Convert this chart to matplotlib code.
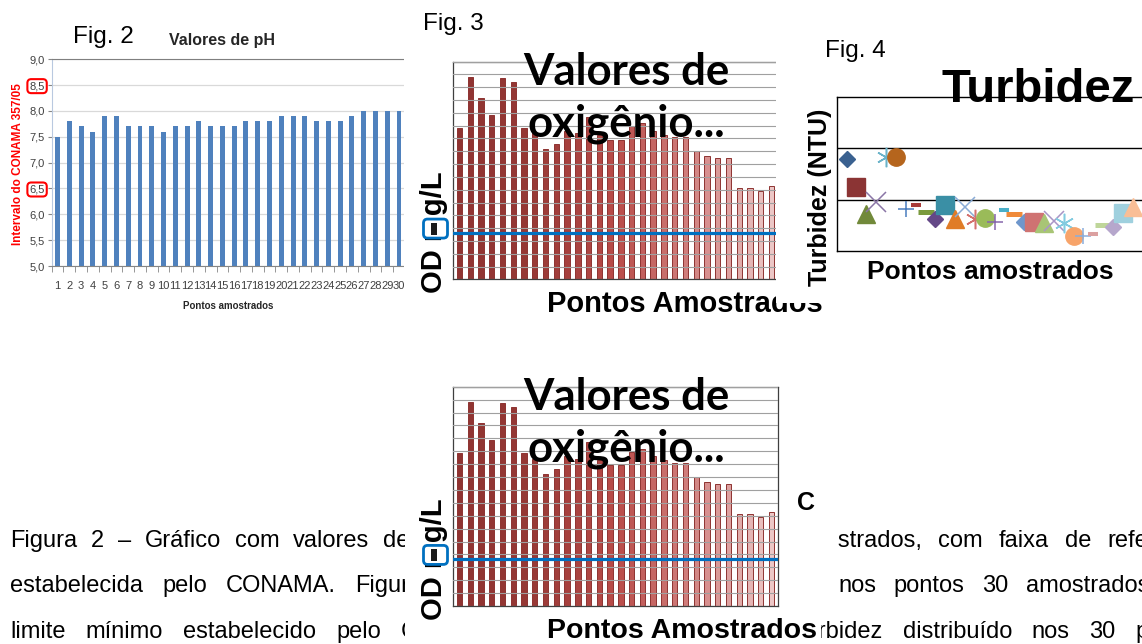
import numpy as np
import matplotlib
matplotlib.use('Agg')
import matplotlib.pyplot as plt
from matplotlib.patches import Rectangle, FancyBboxPatch
from matplotlib.colors import LinearSegmentedColormap
from matplotlib.transforms import Affine2D, Bbox, TransformedBbox

# page size in pixels
W, H = 1142, 644

# Fig. 2 - pH per sampling point
ph_points = np.arange(1, 31)
ph_values = [7.5, 7.8, 7.7, 7.6, 7.9, 7.9, 7.7, 7.7, 7.7, 7.6,
             7.7, 7.7, 7.8, 7.7, 7.7, 7.7, 7.8, 7.8, 7.8, 7.9,
             7.9, 7.9, 7.8, 7.8, 7.8, 7.9, 8.0, 8.0, 8.0, 8.0]
ph_ticks = [5.0, 5.5, 6.0, 6.5, 7.0, 7.5, 8.0, 8.5, 9.0]
ph_boxed = [6.5, 8.5]          # faixa CONAMA 357/05

# Fig. 3 - oxigenio dissolvido (unidades da grade)
od_points = np.arange(1, 31)
od_values = [11.85, 15.8, 14.2, 12.85, 15.7, 15.45, 11.85, 11.4, 10.2, 10.6,
             11.6, 11.4, 12.7, 11.3, 10.9, 10.9, 11.95, 12.2, 11.6, 11.3,
             11.1, 11.1, 10.0, 9.6, 9.45, 9.45, 7.1, 7.1, 6.9, 7.3]
od_limit = 3.65

# Fig. 4 - turbidez
turb_points = np.arange(1, 31)
turb_values = [89, 62.5, 36, 48, 91.5, 91.5, 40.5, 44.5, 37.5, 31,
               44.5, 31, 42.5, 31, 32, 28.5, 40, 35.5, 28.5, 28.5,
               27, 29.5, 27, 15, 14.5, 17, 25.5, 23, 36.5, 43]
turb_grid = [50, 100]

# body text around the figures
body_left = [['Figura', '2', '–', 'Gráfico', 'com', 'valores', 'de'],
             ['estabelecida', 'pelo', 'CONAMA.', 'Figura'],
             ['limite', 'mínimo', 'estabelecido', 'pelo', 'CONAMA']]
body_right = [['amostrados,', 'com', 'faixa', 'de', 'referência'],
              ['nos', 'pontos', '30', 'amostrados'],
              ['turbidez', 'distribuído', 'nos', '30', 'pontos']]

fig = plt.figure(figsize=(W / 100, H / 100), dpi=100)
fig.patch.set_facecolor('white')
px = Affine2D().scale(1 / W, -1 / H).translate(0, 1) + fig.transFigure
SANS = 'Liberation Sans'


def box(l, t, r, b):
    return [l / W, 1 - b / H, (r - l) / W, (b - t) / H]


def white_bg(l, t, r, b, z):
    # white area of a pasted picture, drawn at page level between layers
    fig.add_artist(Rectangle((l, t), r - l, b - t, transform=px, facecolor='white',
                             edgecolor='none', zorder=z))


# ---------------- Fig. 2 ----------------
ax2 = fig.add_axes(box(51.7, 59.3, 404.9, 266), zorder=1)
ax2.bar(ph_points, ph_values, width=0.42, color='#4F81BD', zorder=2)
ax2.set_xlim(0.5, 30.5)
ax2.set_ylim(5, 9)
ax2.set_yticks(ph_ticks)
ax2.set_yticklabels([('%.1f' % v).replace('.', ',') for v in ph_ticks],
                    fontsize=8, color='#404040', family=SANS)
ax2.set_xticks(ph_points)
ax2.set_xticklabels([str(p) for p in ph_points], fontsize=8, color='#404040', family=SANS)
ax2.set_xticks(np.arange(0.5, 31, 1), minor=True)
ax2.tick_params(axis='x', which='major', length=0, pad=11)
ax2.tick_params(axis='x', which='minor', length=4, color='#868686')
ax2.tick_params(axis='y', length=3, pad=2, color='#868686')
ax2.yaxis.grid(True, color='#D9D9D9', lw=0.9)
ax2.set_axisbelow(True)
ax2.spines['right'].set_visible(False)
ax2.spines['top'].set_color('#7F7F7F')
ax2.spines['left'].set_color('#B9C9E0')
ax2.spines['bottom'].set_color('#868686')
for lab, v in zip(ax2.get_yticklabels(), ph_ticks):
    if v in ph_boxed:
        lab.set_bbox(dict(boxstyle='round,pad=0.18,rounding_size=0.35', fc='none',
                          ec='#FF0000', lw=1.5))
ax2.text(73, 43, 'Fig. 2', transform=px, fontsize=17.5, family=SANS, va='baseline')
ax2.text(222, 45, 'Valores de pH', transform=px, fontsize=11.5, family=SANS,
         fontweight='bold', ha='center', va='baseline', color='#262626')
ax2.text(18.5, 164, 'Intervalo do CONAMA 357/05', transform=px, rotation=90,
         fontsize=8.5, family=SANS, fontweight='bold', color='#FF0000',
         ha='center', va='center')
ax2.text(228, 306, 'Pontos amostrados', transform=px, fontsize=7, family=SANS,
         fontweight='bold', color='#262626', ha='center', va='center')

# ---------------- Fig. 3 ----------------
od_cmap = LinearSegmentedColormap.from_list(
    'od', [(0, '#8F3331'), (0.22, '#963835'), (0.5, '#B94B48'),
           (0.72, '#CF7C7A'), (1, '#ECC7C6')])
od_colors = od_cmap(np.linspace(0, 1, len(od_values)))


def od_chart(top, bottom, zord, xlab_size):
    ax = fig.add_axes(box(453.5, top, 777.5, bottom), zorder=zord)
    ax.bar(od_points, od_values, width=0.5, color=od_colors,
           edgecolor='#8E3331', linewidth=0.7, zorder=1)
    ax.axhline(od_limit, color='#0070C0', lw=2.3, zorder=3)
    ax.set_xlim(0.443, 30.557)
    ax.set_ylim(0, 17)
    ax.set_yticks(np.arange(0, 18))
    ax.set_xticks([])
    ax.tick_params(axis='y', length=0, labelleft=False)
    ax.set_axisbelow(False)
    ax.yaxis.grid(True, color='#A0A0A0', lw=0.8)
    for s in ax.spines.values():
        s.set_color('#3F3F3F')
        s.set_linewidth(0.9)
    ax.text(626.5, top + 23, 'Valores de', transform=px, ha='center', va='baseline',
            fontsize=31.5, family='Lato', fontweight='bold', zorder=5)
    ax.text(626.5, top + 75, 'oxigênio...', transform=px, ha='center', va='baseline',
            fontsize=31.5, family='Lato', fontweight='bold', zorder=5)
    ax.text(433.5, bottom - 46.8, 'OD mg/L', transform=px, rotation=90,
            ha='center', va='center', fontsize=21, family=SANS, fontweight='bold')
    ly = bottom - od_limit * (bottom - top) / 17 - 4
    ax.add_patch(FancyBboxPatch((423.5, ly - 9.5), 24, 19,
                                boxstyle='round,pad=0,rounding_size=4', transform=px,
                                fc='white', ec='#0070C0', lw=2, clip_on=False, zorder=6))
    ax.add_patch(Rectangle((430.5, ly - 6), 6, 12, transform=px, fc='#1A1A1A',
                           ec='none', clip_on=False, zorder=7))
    ax.text(547, bottom + 32.3, 'Pontos Amostrados', transform=px, ha='left',
            va='baseline', fontsize=xlab_size, family=SANS, fontweight='bold')
    return ax


white_bg(404, 0, 777, 322, 1.5)
ax3 = od_chart(61.7, 279.3, 2, 21)
ax3.text(423.3, 30, 'Fig. 3', transform=px, fontsize=17.5, family=SANS, va='baseline')

# ---------------- Fig. 4 ----------------
white_bg(776, 30, 1142, 303, 2.5)
step = 9.87
ax4 = fig.add_axes(box(836.7, 96.7, 836.7 + 32 * step, 251), zorder=3)
markers = [('D', 8.5, 1.0), ('s', 13.5, 1.0), ('^', 13, 1.0), ('x', 14, 1.1),
           ((6, 2, 0), 14, 1.1), ('o', 12.5, 1.0), ('+', 12, 1.1),
           ('_', 6.5, 2.9), ('_', 11, 3.6)]
turb_colors = ['#3A6190', '#8B3434', '#71893A', '#8A75A6', '#6AB3C9', '#B5651D',
               '#4A7DBF', '#A83B38', '#7A9A3E', '#644887', '#3A8FA5', '#E07C27',
               '#89ABD6', '#D4706D', '#9ABB59', '#8667AC', '#4AAFC8', '#F08A3A',
               '#6F97CC', '#CF7372', '#A8C575', '#A895C6', '#82CBE0', '#F7A46A',
               '#8AAEDC', '#DBA0A0', '#BFD69A', '#B6A7CC', '#9FD0DE', '#F9BE96']
for i, (p, v) in enumerate(zip(turb_points, turb_values)):
    m, ms, mew = markers[i % len(markers)]
    c = turb_colors[i]
    ax4.plot([p], [v], ls='none', marker=m, ms=ms, mew=mew, color=c,
             mfc=c, mec=c, zorder=3)
ax4.set_xlim(0, 32)
ax4.set_ylim(0, 150)
ax4.set_yticks(turb_grid)
ax4.set_xticks([])
ax4.tick_params(axis='y', length=0, labelleft=False)
ax4.yaxis.grid(True, color='black', lw=1.0)
ax4.set_axisbelow(True)
ax4.spines['right'].set_visible(False)
for s in ['top', 'left', 'bottom']:
    ax4.spines[s].set_color('black')
    ax4.spines[s].set_linewidth(1.0)
ax4.text(825, 56.7, 'Fig. 4', transform=px, fontsize=17.5, family=SANS, va='baseline')
ax4.text(1038, 101.7, 'Turbidez', transform=px, fontsize=34, family=SANS,
         fontweight='bold', ha='center', va='baseline', zorder=5)
ax4.text(820, 197.5, 'Turbidez (NTU)', transform=px, rotation=90, fontsize=18,
         family=SANS, fontweight='bold', ha='center', va='center')
ax4.text(990, 272.5, 'Pontos amostrados', transform=px, fontsize=19, family=SANS,
         fontweight='bold', ha='center', va='center')

# ---------------- body text ----------------
rend = fig.canvas.get_renderer()


def put_words(words, x0, y, gap=None, x_last=None, clip=None):
    texts = [fig.text(0, y, w, transform=px, fontsize=17, family=SANS,
                      va='baseline', zorder=3.5) for w in words]
    widths = [t.get_window_extent(renderer=rend).width for t in texts]
    if x_last is not None:
        gap = (x_last - x0 - sum(widths[:-1])) / (len(words) - 1)
    x = x0
    for t, w in zip(texts, widths):
        t.set_x(x)
        if clip is not None:
            t.set_clip_box(TransformedBbox(Bbox.from_extents(clip[0], 0, clip[1], H), px))
            t.set_clip_on(True)
        x += w + gap


def text_width(s):
    t = fig.text(0, 0, s, fontsize=17, family=SANS)
    w = t.get_window_extent(renderer=rend).width
    t.remove()
    return w


baselines = [546.7, 591.7, 638.3]
last_starts = [383.3, 355, 401]
for words, y, xl in zip(body_left, baselines, last_starts):
    put_words(words, 10, y, x_last=xl, clip=(0, 405))

put_words(body_right[0], 838.3 - text_width('amo'), baselines[0], gap=16, clip=(838, W))
put_words(body_right[1], 838.3, baselines[1], gap=17.5, clip=(838, W))
put_words(body_right[2], 826.7 - text_width('tur'), baselines[2], gap=19.5, clip=(821, W))

# ---------------- Fig. 3 (repeated, lower) ----------------
white_bg(405, 360, 837, 612, 3.8)
white_bg(405, 612, 821, 644, 3.8)
od_chart(386.7, 606, 4, 20.5)
fig.text(796.7, 510, 'C', transform=px, fontsize=18, family=SANS,
         fontweight='bold', va='baseline', zorder=5)

fig.savefig('out.png', dpi=100, facecolor='white')
